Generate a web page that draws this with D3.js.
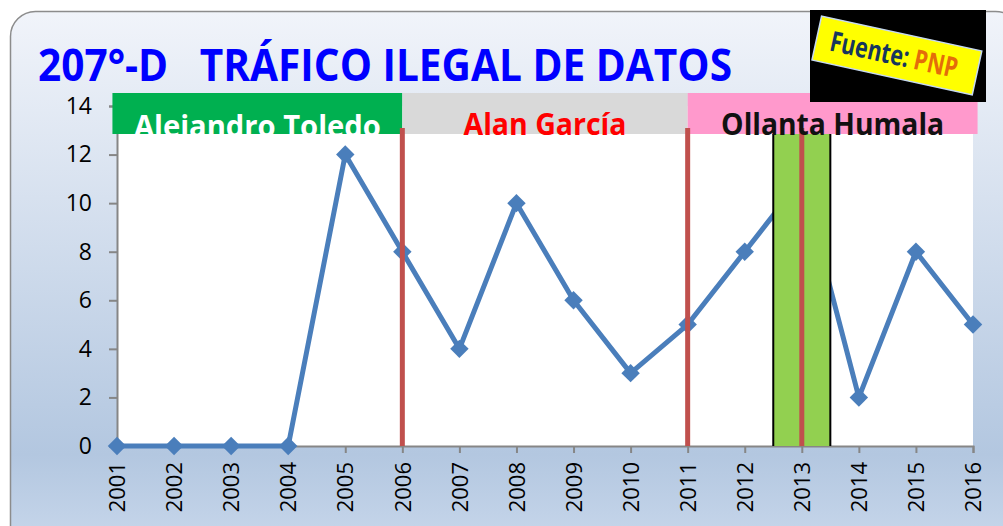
<!DOCTYPE html>
<html>
<head>
<meta charset="utf-8">
<script src="https://cdn.jsdelivr.net/npm/d3@7"></script>
<style>
  body { margin: 0; background: #fff; }
  svg { display: block; font-family: "Open Sans", sans-serif; }
</style>
</head>
<body>
<div id="container"></div>
<script>
/* DATA */
const years = [2001, 2002, 2003, 2004, 2005, 2006, 2007, 2008, 2009, 2010, 2011, 2012, 2013, 2014, 2015, 2016];
const cases = [0, 0, 0, 0, 12, 8, 4, 10, 6, 3, 5, 8, 11, 2, 8, 5];
const yTicks = [0, 2, 4, 6, 8, 10, 12, 14];

const presidents = ["Alejandro Toledo", "Alan García", "Ollanta Humala"];
const presStart = [2000.92, 2006, 2011];
const presEnd = [2006, 2011, 2016.08];
const presFill = ["#00b050", "#d9d9d9", "#ff99cc"];
const presText = ["#ffffff", "#ff0000", "#111111"];
const presTextWidth = [247, 163, 223];

const markLines = [2006, 2011, 2013];
const highlight = [2012.5, 2013.5];

/* CONSTANTS */
const width = 1003, height = 526;
const plot = { left: 117, right: 973, top: 106, bottom: 446 };

const svg = d3.select("#container").append("svg")
  .attr("width", width).attr("height", height);

const defs = svg.append("defs");
const grad = defs.append("linearGradient").attr("id", "bg")
  .attr("x1", 0).attr("y1", 0).attr("x2", 0).attr("y2", 1);
grad.append("stop").attr("offset", "0%").attr("stop-color", "#f1f4fa");
grad.append("stop").attr("offset", "82%").attr("stop-color", "#b3c7e0");
grad.append("stop").attr("offset", "100%").attr("stop-color", "#c9d8ec");

// outer frame
svg.append("rect")
  .attr("x", 10.5).attr("y", 11.5).attr("width", 1010).attr("height", 540)
  .attr("rx", 25)
  .attr("fill", "url(#bg)").attr("stroke", "#8c8c8c").attr("stroke-width", 1.5);

/* SCALES */
const x = d3.scaleLinear().domain([2001, 2016]).range([plot.left, plot.right]);
const y = d3.scaleLinear().domain([0, 14]).range([plot.bottom, plot.top]);

// plot area
svg.append("rect")
  .attr("x", x(2001)).attr("y", y(14))
  .attr("width", x(2016) - x(2001)).attr("height", y(0) - y(14))
  .attr("fill", "#fff");

/* AXES */
const yAxis = svg.append("g")
  .attr("transform", `translate(${x(2001)},0)`)
  .call(d3.axisLeft(y).tickValues(yTicks).tickSize(8).tickPadding(17));
const xAxis = svg.append("g")
  .attr("transform", `translate(0,${y(0)})`)
  .call(d3.axisBottom(x).tickValues(years).tickFormat(d3.format("d")).tickSize(7));

[yAxis, xAxis].forEach(g => {
  g.select(".domain").attr("stroke", "#868686").attr("stroke-width", 2);
  g.selectAll(".tick line").attr("stroke", "#868686").attr("stroke-width", 2);
  g.selectAll("text").attr("fill", "#000").attr("font-size", 22)
    .attr("font-family", "Open Sans, sans-serif");
});
yAxis.selectAll("text").attr("font-size", 23);
xAxis.selectAll("text")
  .attr("transform", "rotate(-90)")
  .attr("text-anchor", "end")
  .attr("x", -16).attr("y", 0).attr("dy", "0.35em");

/* SERIES */
const line = d3.line().x((d, i) => x(years[i])).y(d => y(d));
svg.append("path")
  .datum(cases)
  .attr("d", line)
  .attr("fill", "none")
  .attr("stroke", "#4a7ebb")
  .attr("stroke-width", 5)
  .attr("stroke-linejoin", "round");

const diamond = d3.symbol(d3.symbolSquare, 170);
svg.selectAll(".marker")
  .data(cases)
  .join("path")
  .attr("class", "marker")
  .attr("d", diamond)
  .attr("transform", (d, i) => `translate(${x(years[i])},${y(d)}) rotate(45)`)
  .attr("fill", "#4a7ebb");

/* HIGHLIGHT BAND */
svg.append("rect")
  .attr("x", x(highlight[0])).attr("y", 134)
  .attr("width", x(highlight[1]) - x(highlight[0]))
  .attr("height", y(0) - 134)
  .attr("fill", "#92d050");
svg.selectAll(".hlEdge")
  .data(highlight)
  .join("line")
  .attr("class", "hlEdge")
  .attr("x1", d => x(d)).attr("x2", d => x(d))
  .attr("y1", 134).attr("y2", y(0))
  .attr("stroke", "#000").attr("stroke-width", 2);

/* PRESIDENT BANDS */
const bands = svg.append("g");
bands.selectAll("rect")
  .data(presidents)
  .join("rect")
  .attr("x", (d, i) => x(presStart[i]))
  .attr("y", 93)
  .attr("width", (d, i) => x(presEnd[i]) - x(presStart[i]))
  .attr("height", 41)
  .attr("fill", (d, i) => presFill[i]);

// red separator lines
svg.selectAll(".sep")
  .data(markLines)
  .join("line")
  .attr("class", "sep")
  .attr("x1", d => x(d)).attr("x2", d => x(d))
  .attr("y1", 128).attr("y2", y(0))
  .attr("stroke", "#c0504d").attr("stroke-width", 5);

defs.append("clipPath").attr("id", "clipBand")
  .append("rect").attr("x", 0).attr("y", 0).attr("width", width).attr("height", 134);

svg.selectAll(".pres")
  .data(presidents)
  .join("text")
  .attr("class", "pres")
  .attr("x", (d, i) => (x(presStart[i]) + x(presEnd[i])) / 2)
  .attr("y", (d, i) => i === 0 ? 137 : 135)
  .attr("text-anchor", "middle")
  .attr("font-size", 30)
  .attr("font-weight", "bold")
  .attr("fill", (d, i) => presText[i])
  .attr("textLength", (d, i) => presTextWidth[i])
  .attr("lengthAdjust", "spacingAndGlyphs")
  .attr("clip-path", (d, i) => i === 0 ? "url(#clipBand)" : null)
  .text(d => d);

/* TITLE */
svg.append("text")
  .attr("x", 38).attr("y", 81)
  .attr("font-size", 44).attr("font-weight", "bold")
  .attr("fill", "#0000ff")
  .attr("textLength", 694).attr("lengthAdjust", "spacingAndGlyphs")
  .attr("xml:space", "preserve")
  .text("207°-D   TRÁFICO ILEGAL DE DATOS");

/* SOURCE BOX */
svg.append("rect")
  .attr("x", 810).attr("y", 10).attr("width", 176).attr("height", 92)
  .attr("fill", "#000");
const src = svg.append("g").attr("transform", "translate(897,55) rotate(12.3)");
src.append("rect")
  .attr("x", -82).attr("y", -22).attr("width", 164).attr("height", 45)
  .attr("fill", "#ffff00").attr("stroke", "#c6d9f1").attr("stroke-width", 1.5);
const srcText = src.append("text")
  .attr("x", -3).attr("y", 10)
  .attr("text-anchor", "middle")
  .attr("font-size", 28).attr("font-weight", "bold")
  .attr("textLength", 130).attr("lengthAdjust", "spacingAndGlyphs");
srcText.append("tspan").attr("fill", "#17365d").text("Fuente: ");
srcText.append("tspan").attr("fill", "#e46c0a").text("PNP");
</script>
</body>
</html>
